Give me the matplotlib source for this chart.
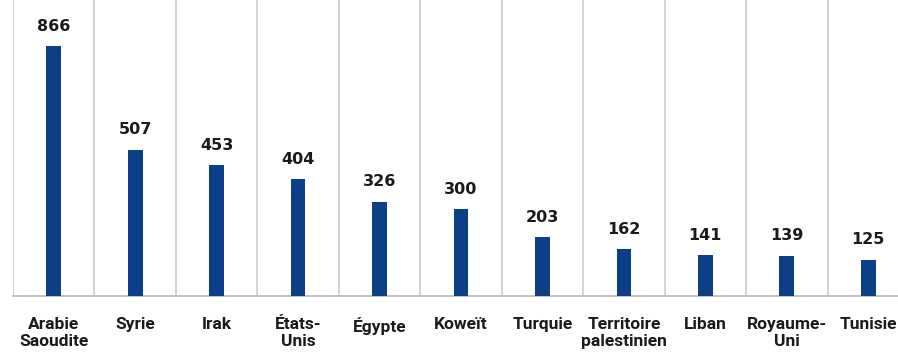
import matplotlib
matplotlib.use("Agg")
import matplotlib.pyplot as plt
import numpy as np

categories = ["Arabie\nSaoudite", "Syrie", "Irak", "États-\nUnis", "Égypte", "Koweït",
              "Turquie", "Territoire\npalestinien", "Liban", "Royaume-\nUni", "Tunisie"]
values = [866, 507, 453, 404, 326, 300, 203, 162, 141, 139, 125]

fig = plt.figure(figsize=(8.98, 3.54), dpi=100)
W, H = 898, 354
left, right, bottom, top = 13, 909, 296, 0
ax = fig.add_axes([left / W, (H - bottom) / H, (right - left) / W, (bottom - top) / H])

x = np.arange(len(values))
ax.bar(x, values, width=0.18, color="#0b3f87", zorder=3)
ax.set_xlim(-0.5, len(values) - 0.5)
ax.set_ylim(0, 866 * 296 / 250)

for b in np.arange(-0.5, len(values), 1.0):
    ax.axvline(b, color="#cfcfcf", lw=1.3, zorder=1)

for xi, v in zip(x, values):
    ax.annotate(str(v), (xi, v), xytext=(0, 9), textcoords="offset points",
                ha="center", va="bottom", fontsize=11.5, fontweight="semibold",
                family="DejaVu Sans", color="#1a1a1a")

for s in ["top", "right", "left"]:
    ax.spines[s].set_visible(False)
ax.spines["bottom"].set_color("#bdbdbd")
ax.spines["bottom"].set_linewidth(1.3)
ax.set_yticks([])
ax.set_xticks(x)
ax.set_xticklabels(categories, fontsize=12.5, fontweight="bold",
                   family=["Roboto", "DejaVu Sans"],
                   linespacing=1.2, color="#1a1a1a")
ax.tick_params(axis="x", length=0, pad=15)

fig.savefig("out.png", dpi=100)
